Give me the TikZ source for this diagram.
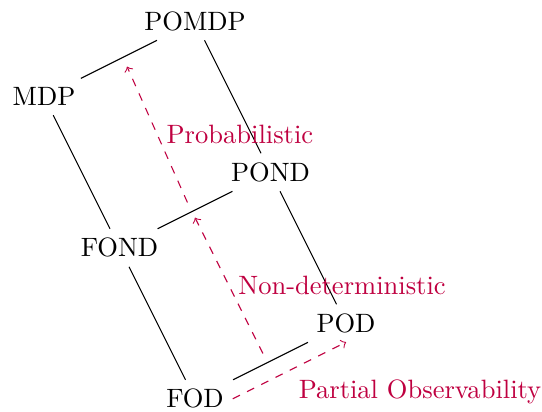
\documentclass[tikz,border=0pt]{standalone}
\usepackage{amsmath}
\begin{document}
\begin{tikzpicture}[extend/.style={->,dashed,purple}]
\useasboundingbox (-2.583,-0.162) rectangle (4.596,5.282);
% Planning models
\node (FOD) at (0,0) {FOD};
\node (POD) at (2,1) {POD};
\node (FOND) at (-1,2) {FOND};
\node (POND) at (1,3) {POND};
\node (MDP) at (-2,4) {MDP};
\node (POMDP) at (0,5) {POMDP};

\draw (FOD) -- (POD);
\draw (FOND) -- (POND);
\draw (MDP) -- (POMDP);
\draw (FOD) -- (FOND);
\draw (FOND) -- (MDP);
\draw (POD) -- (POND);
\draw (POND) -- (POMDP);

% Generalisations
\coordinate (P1) at (0.5,0);
\coordinate (P2) at (2,0.75);
\coordinate (N1) at (0.9,0.6);
\coordinate (N2) at (0,2.4);
\coordinate (R1) at (-0.1,2.6);
\coordinate (R2) at (-0.9,4.4);

\draw[extend] (P1) -- (P2) node[midway,below right] (PO) {Partial Observability};
\draw[extend] (N1) -- (N2) node[midway,right] (ND) {Non-deterministic};
\draw[extend] (R1) -- (R2) node[midway,right] (PR) {Probabilistic};
\end{tikzpicture}
\end{document}
